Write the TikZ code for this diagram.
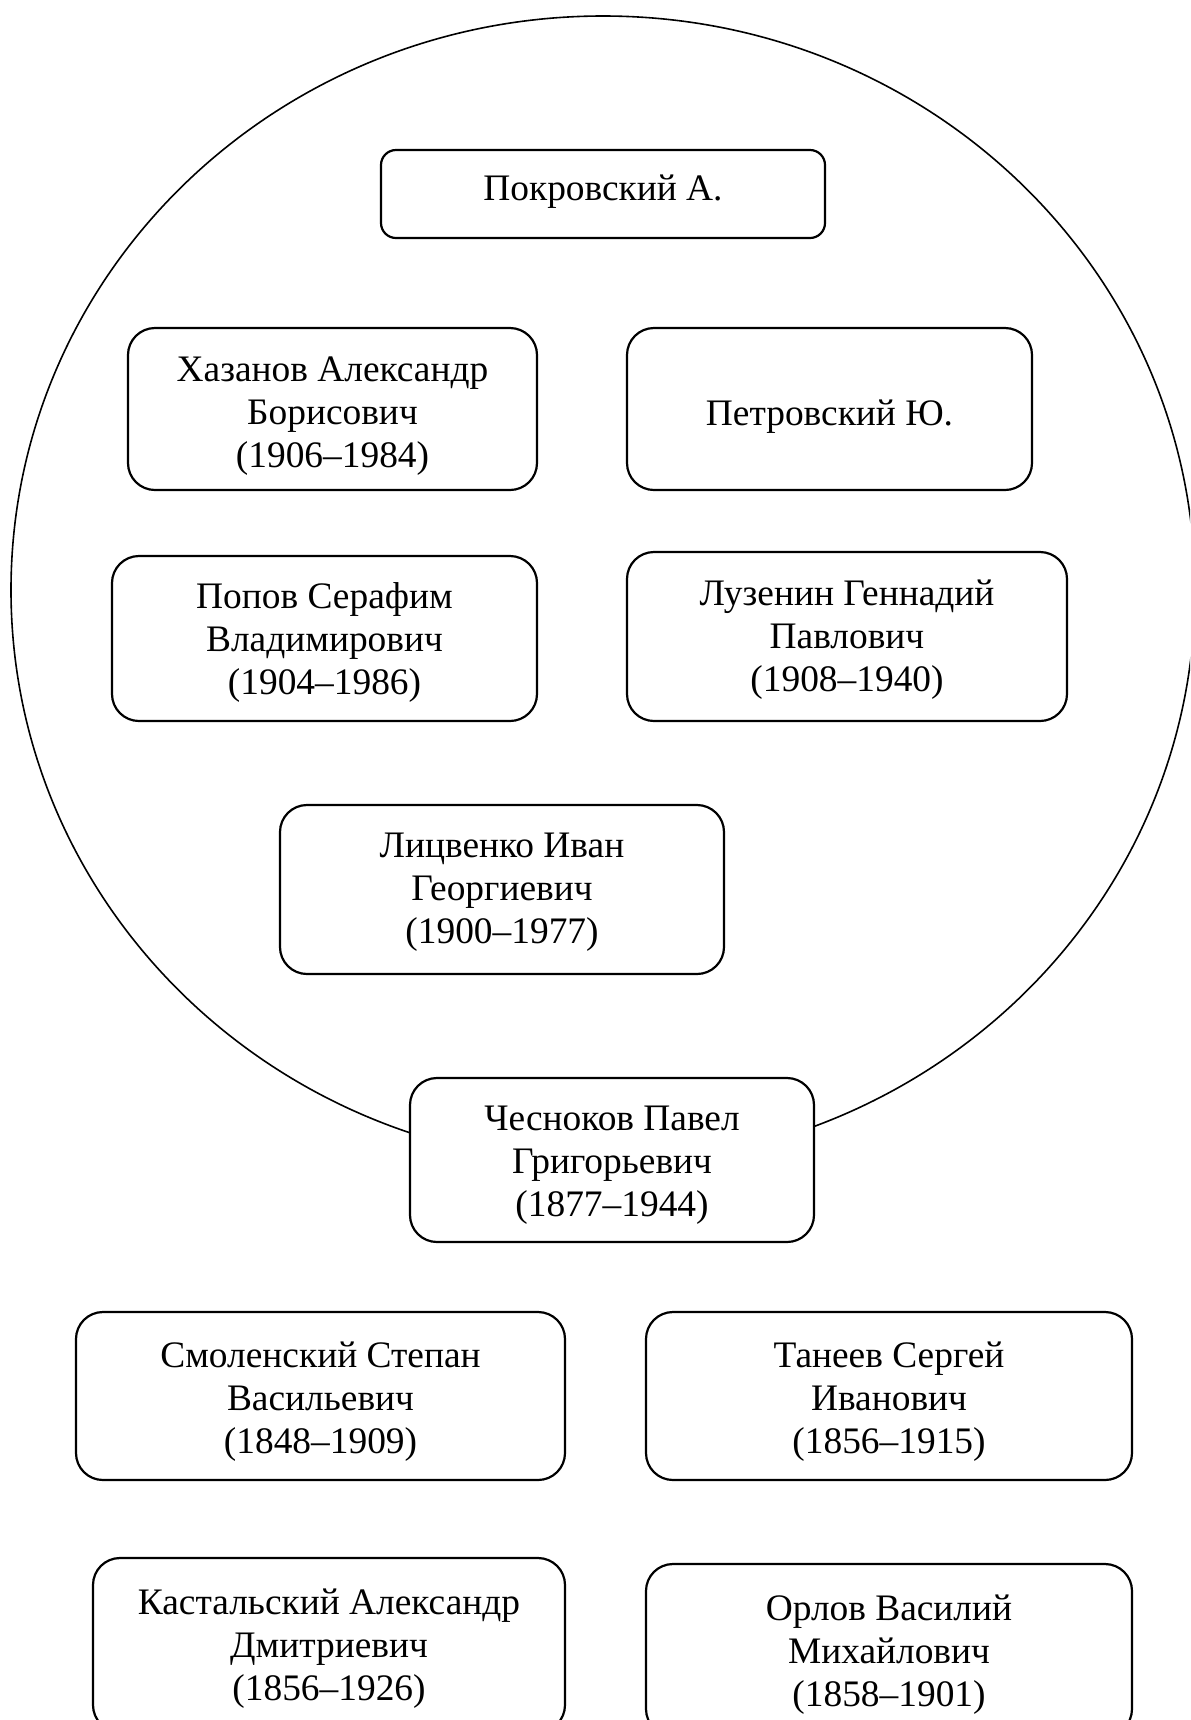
\documentclass[tikz,border=0pt]{standalone}
\usepackage{fontspec}
\setmainfont{Liberation Serif}
\begin{document}
\begin{tikzpicture}[x=0.5pt,y=-0.5pt,
  person/.style={draw, fill=white, line width=1.1pt, inner sep=0pt},
  txt/.style={align=center, inner sep=0pt, font={\fontsize{18.7}{21.5}\selectfont}},
  ring/.style={draw, line width=0.8pt}]
\clip (0,0) rectangle (1190,1720);
\fill[white] (0,0) rectangle (1190,1720);
\draw[ring] (603,590) ellipse [x radius=296pt, y radius=287pt];
\node[person, rounded corners=7.5pt, minimum width=222pt, minimum height=44pt,
  label={[txt,yshift=1.1pt]center:{Покровский А.}}] (pokr) at (603,194) {};
\node[person, rounded corners=13.5pt, minimum width=204.5pt, minimum height=81pt,
  label={[txt,yshift=-3.8pt]center:{Хазанов Александр\\Борисович\\(1906–1984)}}] (khaz) at (332.5,409) {};
\node[person, rounded corners=13.5pt, minimum width=202.5pt, minimum height=81pt,
  label={[txt,yshift=-3.8pt]center:{Петровский Ю.}}] (petr) at (829.5,409) {};
\node[person, rounded corners=13.5pt, minimum width=212.5pt, minimum height=82.5pt,
  label={[txt,yshift=-2.2pt]center:{Попов Серафим\\Владимирович\\(1904–1986)}}] (popov) at (324.5,638.5) {};
\node[person, rounded corners=13.5pt, minimum width=220pt, minimum height=84.5pt,
  label={[txt,yshift=-1.4pt]center:{Лузенин Геннадий\\Павлович\\(1908–1940)}}] (luz) at (847,636.5) {};
\node[person, rounded corners=13.5pt, minimum width=222pt, minimum height=84.5pt,
  label={[txt,yshift=-1.6pt]center:{Лицвенко Иван\\Георгиевич\\(1900–1977)}}] (lits) at (502,889.5) {};
\node[person, rounded corners=13.5pt, minimum width=202pt, minimum height=82pt,
  label={[txt,yshift=-2.7pt]center:{Чесноков Павел\\Григорьевич\\(1877–1944)}}] (chesn) at (612,1160) {};
\node[person, rounded corners=13.5pt, minimum width=244.5pt, minimum height=84pt,
  label={[txt,yshift=-2.7pt]center:{Смоленский Степан\\Васильевич\\(1848–1909)}}] (smol) at (320.5,1396) {};
\node[person, rounded corners=13.5pt, minimum width=243pt, minimum height=84pt,
  label={[txt,yshift=-2.7pt]center:{Танеев Сергей\\Иванович\\(1856–1915)}}] (tan) at (889,1396) {};
\node[person, rounded corners=13.5pt, minimum width=236pt, minimum height=87pt,
  label={[txt,yshift=-1.9pt]center:{Кастальский Александр\\Дмитриевич\\(1856–1926)}}] (kast) at (329,1645) {};
\node[person, rounded corners=13.5pt, minimum width=243pt, minimum height=86pt,
  label={[txt,yshift=-2.2pt]center:{Орлов Василий\\Михайлович\\(1858–1901)}}] (orl) at (889,1650) {};
\end{tikzpicture}
\end{document}
